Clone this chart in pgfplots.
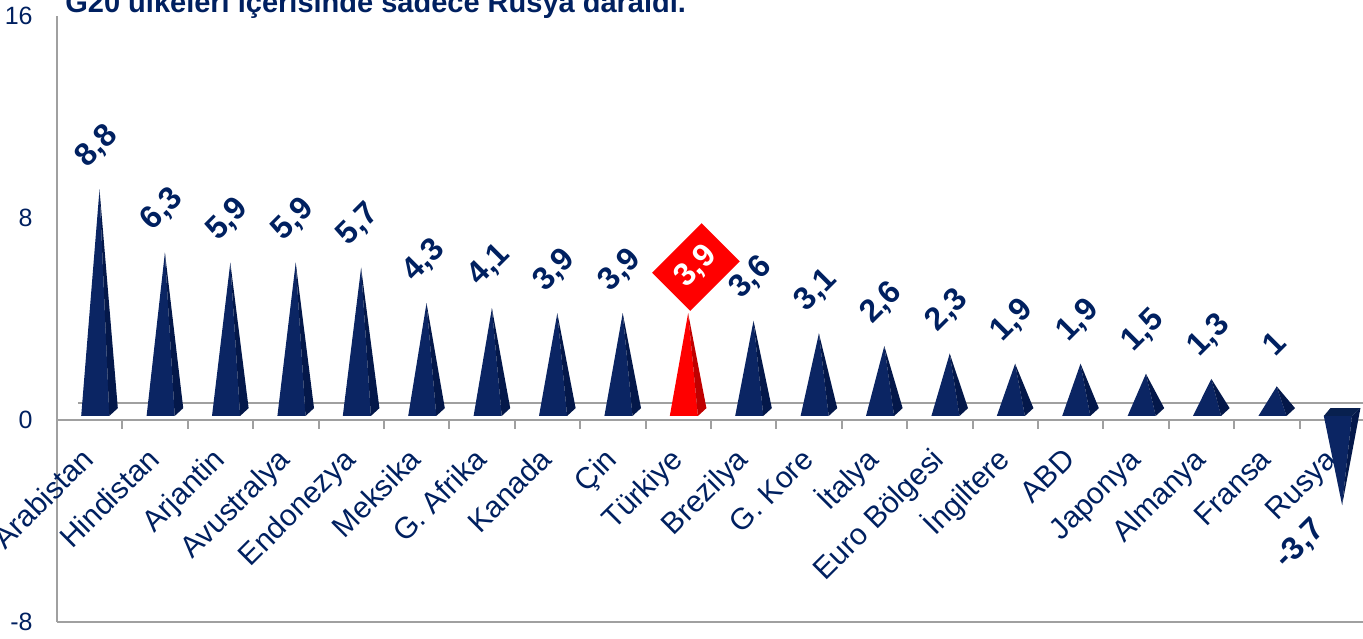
\documentclass[border=0pt]{standalone}
\usepackage{pgfplots}
\usepackage{pgfplotstable}
\pgfplotsset{compat=1.18}
\usepackage{fontspec}
\setmainfont{Liberation Sans}
\definecolor{navy}{HTML}{002060}
\definecolor{pyrfront}{HTML}{0B2563}
\definecolor{pyrside}{HTML}{04184A}
\definecolor{pyrcap}{HTML}{08204F}
\definecolor{redfront}{HTML}{FF0000}
\definecolor{redside}{HTML}{C00000}
\definecolor{axgray}{HTML}{A0A0A0}

\pgfplotstableread{
x v
0 8.8
1 6.3
2 5.9
3 5.9
4 5.7
5 4.3
6 4.1
7 3.9
8 3.9
9 3.9
10 3.6
11 3.1
12 2.6
13 2.3
14 1.9
15 1.9
16 1.5
17 1.3
18 1
19 -3.7
}\gdp

\begin{document}
\begin{tikzpicture}
\begin{axis}[
  scale only axis, width=654pt, height=303pt,
  xmin=-0.5, xmax=19.5, ymin=-8, ymax=16,
  axis y line*=left, axis x line*=middle,
  axis line style={axgray, line width=1pt},
  hide obscured x ticks=false, hide obscured y ticks=false,
  ytick={-8,0,8,16},
  xtick={0,...,19},
  xticklabels={S. Arabistan, Hindistan, Arjantin, Avustralya, Endonezya, Meksika, G. Afrika, Kanada, Çin, Türkiye, Brezilya, G. Kore, İtalya, Euro Bölgesi, İngiltere, ABD, Japonya, Almanya, Fransa, Rusya},
  major tick length=0pt,
  xticklabel style={anchor=base east, inner sep=0pt, xshift=3pt, yshift=-20.5pt, rotate=45, font=\fontsize{15}{18}\selectfont, text=navy},
  yticklabel style={anchor=east, inner sep=0pt, xshift=-12pt, font=\fontsize{12.5}{15}\selectfont, text=navy},
  /pgf/number format/.cd, use comma, assume math mode=true, /pgfplots/.cd,
  clip=false,
]
\coordinate (bbNW) at (rel axis cs:0,1);
\coordinate (bbSE) at (rel axis cs:1,0);
\draw[axgray, line width=1pt] (rel axis cs:0,0) -- (rel axis cs:1,0);
\draw[axgray, line width=1pt] (axis cs:-0.18,0.67) -- (axis cs:19.5,0.67);
\pgfplotsinvokeforeach{0,...,18}{
  \draw[axgray, line width=1pt] (axis cs:#1.5,0) -- ([yshift=-4.5pt]axis cs:#1.5,0);
}
\node[anchor=base west, inner sep=0pt, font=\bfseries\fontsize{14.5}{17}\selectfont, text=navy] at ([xshift=4pt, yshift=1.5pt]rel axis cs:0,1) {G20 ülkeleri içerisinde sadece Rusya daraldı.};

\pgfplotsinvokeforeach{0,...,19}{
  \pgfplotstablegetelem{#1}{v}\of\gdp
  \let\pyrv\pgfplotsretval
  \pgfmathsetmacro\pxa{#1+0.15}
  \pgfmathsetmacro\pxl{#1+0.15-0.28}
  \pgfmathsetmacro\pxr{#1+0.15+0.15}
  \pgfmathsetmacro\pxb{#1+0.15+0.28}
  \pgfmathsetmacro\pxc{#1+0.15-0.18}
  \pgfmathsetmacro\pya{\pyrv+0.33}
  \ifnum#1=9 \def\pfc{redfront}\def\psc{redside}\else\def\pfc{pyrfront}\def\psc{pyrside}\fi
  \edef\pyrdraw{%
    \noexpand\addplot[fill=\pfc, draw=none] coordinates {(\pxl,0.16) (\pxa,\pya) (\pxr,0.16)};
    \noexpand\addplot[fill=\psc, draw=none] coordinates {(\pxr,0.16) (\pxa,\pya) (\pxb,0.47)};
  }\pyrdraw
  \ifdim\pyrv pt<0pt
    \edef\pyrcapdraw{%
      \noexpand\addplot[fill=pyrcap, draw=none] coordinates {(\pxl,0.16) (\pxc,0.47) (\pxb,0.47) (\pxr,0.16)};
    }\pyrcapdraw
  \fi
}

\addplot[draw=none, mark=none, skip coords between index={9}{10}, point meta=\thisrow{v},
  nodes near coords,
  every node near coord/.append style={anchor=center, rotate=45, inner sep=0pt, font=\bfseries\fontsize{16}{19}\selectfont, text=navy}]
  table[x expr={\thisrow{x}+(\thisrow{v}<0 ? -0.49 : 0.11)}, y expr={\thisrow{v}<0 ? \thisrow{v}-1.21 : \thisrow{v}+2.03}] {\gdp};

\addplot[draw=none, mark=none, restrict x to domain=8.5:9.5, point meta=\thisrow{v},
  nodes near coords,
  every node near coord/.append style={anchor=center, rotate=45, inner sep=0pt, fill=red, text=white, minimum width=35pt, minimum height=27pt, font=\bfseries\fontsize{16}{19}\selectfont}]
  table[x expr=\thisrow{x}+0.27, y expr=\thisrow{v}+2.16] {\gdp};
\end{axis}
\pgfresetboundingbox
\path[use as bounding box] ([xshift=-28.5pt, yshift=8pt]bbNW) rectangle ([xshift=-1pt, yshift=-8pt]bbSE);
\end{tikzpicture}
\end{document}
